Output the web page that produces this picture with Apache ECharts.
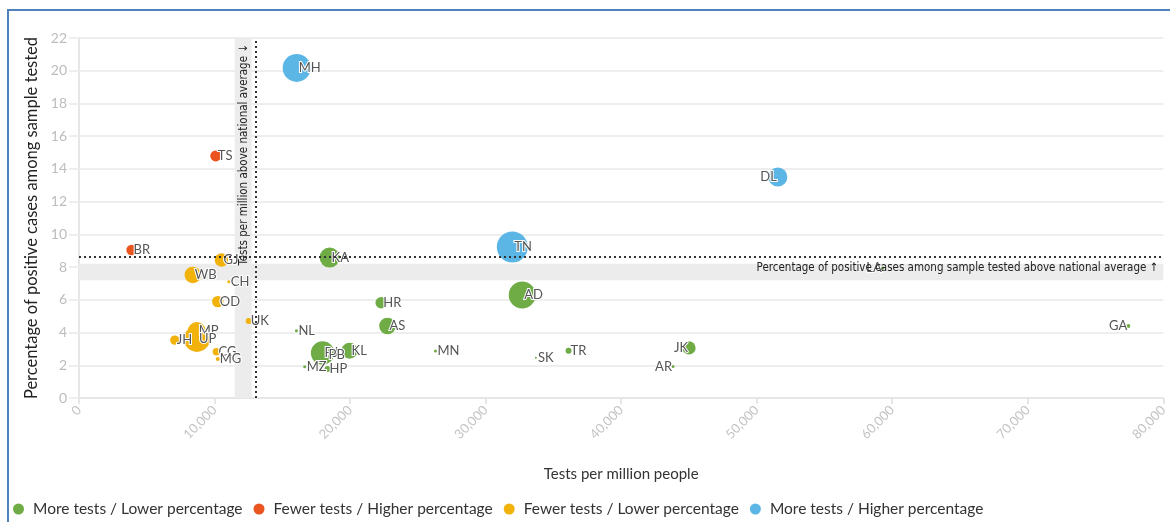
<!DOCTYPE html>
<html>
<head>
<meta charset="utf-8">
<script src="https://cdn.jsdelivr.net/npm/echarts@6/dist/echarts.min.js"></script>
<style>
  html, body { margin: 0; padding: 0; background: #fff; }
  #bubble-chart { width: 1170px; height: 522px; }
</style>
</head>
<body>
<div id="bubble-chart"></div>
<script>
// state codes and values
const states = ['MH','TS','DL','TN','BR','GJ','KA','WB','CH','OD','HR','AD','AS','UK','NL','GA',
  'MP','UP','JH','CG','MG','RJ','PB','KL','MZ','HP','MN','SK','TR','JK','AR','LA']
const testsPerMillion = [16060,10090,51560,31970,3880,10510,18490,8400,11050,10240,22300,32700,22760,12520,16040,77420,
  8690,8700,7070,10140,10240,17970,18270,19960,16650,18340,26300,33710,36120,45010,43830,59300]
const positivePct = [20.17,14.79,13.5,9.23,9.04,8.43,8.58,7.52,7.11,5.89,5.82,6.29,4.4,4.71,4.11,4.4,
  4.09,3.61,3.54,2.83,2.38,2.75,2.63,2.89,1.91,1.77,2.87,2.46,2.89,3.06,1.93,7.94]
// total tests done (thousands) - drives bubble area
const testsDone = [1900,290,880,2330,270,440,970,670,22,315,326,1770,670,87,22,39,
  786,1640,214,140,39,1330,90,620,22,87,22,10,87,423,22,22]

const avgTestsPerMillion = 13040
const avgPositivePct = 8.62

const groupNames = ['More tests / Lower percentage','Fewer tests / Higher percentage','Fewer tests / Lower percentage','More tests / Higher percentage']
const groupColors = ['#6fac46','#e9541f','#f2b20c','#5bb6e6']

const xTicks = [0,10000,20000,30000,40000,50000,60000,70000,80000]
const yTicks = [0,2,4,6,8,10,12,14,16,18,20,22]

const font = 'Lato, "Noto Sans", sans-serif'
const narrowFont = '"Liberation Sans Narrow", "DejaVu Sans Condensed", sans-serif'

function groupOf(i){
  const more = testsPerMillion[i] > avgTestsPerMillion
  const higher = positivePct[i] > avgPositivePct
  if (more && !higher) return 0
  if (!more && higher) return 1
  if (!more && !higher) return 2
  return 3
}

const series = groupNames.map((name, g) => {
  const data = []
  for (let i = 0; i < states.length; i++) {
    if (groupOf(i) !== g) continue
    const right = testsPerMillion[i] > 40000
    data.push({
      value: [testsPerMillion[i], positivePct[i], testsDone[i], states[i]],
      label: { align: right ? 'right' : 'left', offset: right ? [-1, 0] : [2, 0] }
    })
  }
  return {
    name: name,
    type: 'scatter',
    z: 3,
    data: data,
    symbolSize: d => 0.642 * Math.sqrt(d[2]),
    itemStyle: { color: groupColors[g], opacity: 1 },
    label: {
      show: true,
      position: 'inside',
      verticalAlign: 'middle',
      formatter: p => p.value[3],
      color: '#555',
      fontFamily: font,
      fontSize: 13,
      textBorderColor: '#fff',
      textBorderWidth: 2
    },
    emphasis: { disabled: true }
  }
})

// national average guides
series.unshift({
  name: 'avg',
  type: 'scatter',
  z: 1,
  data: [],
  markArea: {
    silent: true,
    itemStyle: { color: '#ececec' },
    data: [
      [{ xAxis: avgTestsPerMillion - 1550 }, { xAxis: avgTestsPerMillion - 300 }],
      [{ yAxis: avgPositivePct - 1.42 }, { yAxis: avgPositivePct - 0.42 }]
    ]
  },
  markLine: {
    silent: true,
    symbol: 'none',
    lineStyle: { type: [2, 3], color: '#333', width: 2 },
    label: { fontFamily: narrowFont, fontSize: 11.5, color: '#222' },
    data: [
      { xAxis: avgTestsPerMillion, label: { position: 'insideEndTop', distance: 6, formatter: 'Tests per million above national average ↓' } },
      { yAxis: avgPositivePct, label: { position: 'insideEndBottom', distance: 5, formatter: 'Percentage of positive cases among sample tested above national average ↑' } }
    ]
  }
})

const myChart = echarts.init(document.getElementById('bubble-chart'))
myChart.setOption({
  animation: false,
  grid: { left: 79, right: 5, top: 38, bottom: 124 },
  legend: {
    data: groupNames,
    left: 8,
    bottom: 0,
    icon: 'path://M1,0A1,1 0 1,1 1,2A1,1 0 1,1 1,0Z',
    itemWidth: 11,
    itemHeight: 15,
    itemGap: 11,
    textStyle: { fontFamily: font, fontSize: 15.5, color: '#333', padding: [0, 0, 0, 4] },
    selectedMode: false
  },
  xAxis: {
    type: 'value',
    min: xTicks[0],
    max: xTicks[xTicks.length - 1],
    interval: 10000,
    name: 'Tests per million people',
    nameLocation: 'middle',
    nameGap: 69,
    nameTextStyle: { fontFamily: font, fontSize: 15, color: '#333' },
    axisLine: { show: true, lineStyle: { color: '#e6e6e6', width: 2 } },
    axisTick: { show: true, length: 6, lineStyle: { color: '#e6e6e6', width: 2 } },
    axisLabel: {
      rotate: 45, margin: 10, fontFamily: font, fontSize: 13, color: '#c4c4c4',
      formatter: v => v.toLocaleString('en-US')
    },
    splitLine: { show: false }
  },
  yAxis: {
    type: 'value',
    min: yTicks[0],
    max: yTicks[yTicks.length - 1],
    interval: 2,
    name: 'Percentage of positive cases among sample tested',
    nameLocation: 'middle',
    nameGap: 37,
    nameTextStyle: { fontFamily: font, fontSize: 16.5, color: '#222' },
    axisLine: { show: true, lineStyle: { color: '#e6e6e6', width: 2 } },
    axisTick: { show: true, length: 10, lineStyle: { color: '#eeeeee', width: 2 } },
    axisLabel: { margin: 12, fontFamily: font, fontSize: 14, color: '#bdbdbd' },
    splitLine: { lineStyle: { color: '#eeeeee', width: 2 } }
  },
  graphic: [
    { type: 'polyline', silent: true, shape: { points: [[8, 522], [8, 10], [1170, 10]] }, style: { stroke: '#4f81bd', lineWidth: 2, fill: null } }
  ],
  series: series
})
</script>
</body>
</html>
